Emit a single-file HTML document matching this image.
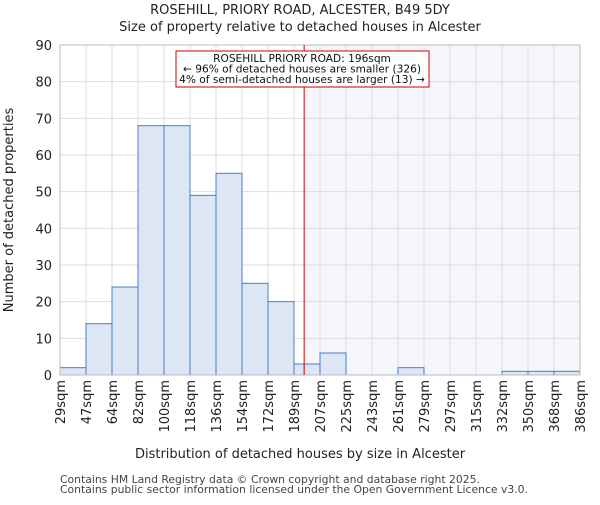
<!DOCTYPE html>
<html><head><meta charset="utf-8"><style>body{margin:0;background:#fff}text{font-family:"DejaVu Sans","Liberation Sans",sans-serif}</style></head>
<body>
<svg id="c" width="600" height="500" xmlns="http://www.w3.org/2000/svg"></svg>
<script>
const binLabels=["29sqm","47sqm","64sqm","82sqm","100sqm","118sqm","136sqm","154sqm","172sqm","189sqm","207sqm","225sqm","243sqm","261sqm","279sqm","297sqm","315sqm","332sqm","350sqm","368sqm","386sqm"];
const counts=[2,14,24,68,68,49,55,25,20,3,6,0,0,2,0,0,0,1,1,1];
const yTicks=[0,10,20,30,40,50,60,70,80,90];
const propertyIndex=9.39;
const svg=document.getElementById('c');const NS='http://www.w3.org/2000/svg';
const L=60,R=580,T=45,B=375,yMax=90;
const x=i=>L+(R-L)*i/(binLabels.length-1);
const y=v=>B-(B-T)*v/yMax;
function mk(t,a,p){const e=document.createElementNS(NS,t);for(const k in a)e.setAttribute(k,a[k]);(p||svg).appendChild(e);return e;}
let e;
e=mk('rect',{x:x(propertyIndex),y:T,width:R-x(propertyIndex),height:B-T,fill:'#f4f6fc'});


for(const v of yTicks){e=mk('line',{x1:L,x2:R,y1:y(v),y2:y(v),stroke:'#dedede'});


e=mk('text',{x:L-8,y:y(v)+5,'text-anchor':'end','font-size':13,fill:'#222'});e.textContent=v;

}
binLabels.forEach((lab,i)=>{e=mk('line',{x1:x(i),x2:x(i),y1:T,y2:B,stroke:'#dedede'});


e=mk('text',{transform:`translate(${x(i)+5},${B+5}) rotate(-90)`,'text-anchor':'end','font-size':13,fill:'#222'});e.textContent=lab;

});
counts.forEach((c,i)=>{e=mk('rect',{x:x(i),y:y(c),width:x(i+1)-x(i),height:B-y(c),fill:'#dce6f5',stroke:'#4a7cc9','stroke-width':1});

});
e=mk('rect',{x:L,y:T,width:R-L,height:B-T,fill:'none',stroke:'#bbb'});


e=mk('line',{x1:x(propertyIndex),x2:x(propertyIndex),y1:T,y2:B,stroke:'#cc0000','stroke-width':1});


e=mk('rect',{x:176,y:51,width:253,height:36,fill:'#fff',stroke:'#cc0000'});


["ROSEHILL PRIORY ROAD: 196sqm","← 96% of detached houses are smaller (326)","4% of semi-detached houses are larger (13) →"].forEach((s,i)=>{e=mk('text',{x:302,y:62+i*10.5,'text-anchor':'middle','font-size':10.6,fill:'#111'});e.textContent=s;

});
const texts=[["ROSEHILL, PRIORY ROAD, ALCESTER, B49 5DY",300,14,13,'chart-title'],["Size of property relative to detached houses in Alcester",300,31,13,'chart-subtitle'],["Distribution of detached houses by size in Alcester",300,458,13,'x-axis-title']];
for(const [s,tx,ty,fs,n] of texts){e=mk('text',{x:tx,y:ty,'text-anchor':'middle','font-size':fs,fill:'#222'});e.textContent=s;

}
e=mk('text',{transform:'translate(13,210) rotate(-90)','text-anchor':'middle','font-size':13,fill:'#222'});e.textContent='Number of detached properties';


["Contains HM Land Registry data © Crown copyright and database right 2025.","Contains public sector information licensed under the Open Government Licence v3.0."].forEach((s,i)=>{e=mk('text',{x:60,y:483+i*10,'font-size':10.8,fill:'#444'});e.textContent=s;

});
</script>
</body></html>
